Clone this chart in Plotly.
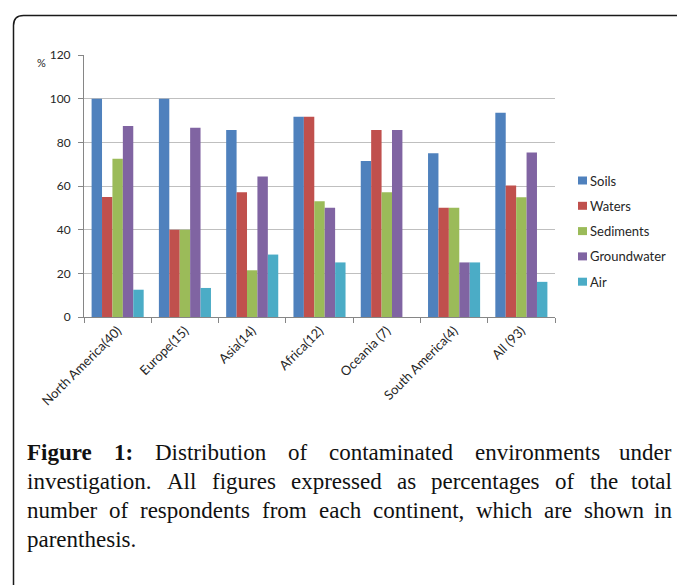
import plotly.graph_objects as go

# ---- data -------------------------------------------------------------
regions = ["North America(40)", "Europe(15)", "Asia(14)", "Africa(12)",
           "Oceania (7)", "South America(4)", "All (93)"]

soils = [100, 100, 85.7, 91.7, 71.4, 75, 93.5]
waters = [55, 40, 57.1, 91.7, 85.7, 50, 60.2]
sediments = [72.5, 40, 21.4, 53, 57.1, 50, 54.8]
groundwater = [87.5, 86.7, 64.3, 50, 85.7, 25, 75.3]
air = [12.5, 13.3, 28.6, 25, 0, 25, 16.1]

series_names = ["Soils", "Waters", "Sediments", "Groundwater", "Air"]
series_values = [soils, waters, sediments, groundwater, air]
series_colors = ["#4F81BD", "#C0504D", "#9BBB59", "#8064A2", "#4BACC6"]

y_ticks = [0, 20, 40, 60, 80, 100, 120]

caption_lines = [
    [("Figure", True), ("1:", True), ("Distribution", False), ("of", False),
     ("contaminated", False), ("environments", False), ("under", False)],
    [(w, False) for w in "investigation. All figures expressed as percentages of the total".split()],
    [(w, False) for w in "number of respondents from each continent, which are shown in".split()],
    [(w, False) for w in "parenthesis.".split()],
]

# ---- page geometry (pixels) ---------------------------------------------
W, H = 677, 585
L, R, T, B = 84, 122, 55, 268
PW, PH = W - L - R, H - T - B
AXIS_GRAY = "#868686"
TEXT = "#262626"


def pxx(x):
    return (x - L) / PW


def pxy(y):
    return (H - B - y) / PH


fig = go.Figure()
for name, vals, col in zip(series_names, series_values, series_colors):
    fig.add_trace(go.Bar(x=regions, y=vals, name=name, marker_color=col,
                         marker_line_width=0, showlegend=False))

# ---- legend: swatch + label per series -----------------------------------
shapes = []
annotations = []
for i, (name, col) in enumerate(zip(series_names, series_colors)):
    cy = 180.5 + i * 25.3
    shapes.append(dict(type="rect", xref="paper", yref="paper",
                       x0=pxx(578), x1=pxx(587), y0=pxy(cy + 4), y1=pxy(cy - 4),
                       fillcolor=col, line_width=0))
    annotations.append(dict(text=name, xref="paper", yref="paper",
                            x=pxx(588), y=pxy(cy), xanchor="left", yanchor="middle",
                            showarrow=False,
                            font=dict(family="Lato", size=13, color=TEXT)))

# unit label beside the top tick
annotations.append(dict(text="%", xref="paper", yref="paper", x=pxx(41), y=pxy(62),
                        xanchor="center", yanchor="middle", showarrow=False,
                        font=dict(family="Lato", size=11, color=TEXT)))

# ---- frame with rounded top-left corner ---------------------------------
rx, ry = 10 / PW, 10 / PH
fx, fy = pxx(13.5), pxy(15.5)
fr, fb = pxx(690), pxy(600)
shapes.append(dict(type="path", xref="paper", yref="paper",
                   path=f"M {fx},{fb} L {fx},{fy - ry} Q {fx},{fy} {fx + rx},{fy} L {fr},{fy}",
                   line=dict(color="#1a1a1a", width=1.5)))

# ---- justified caption (Times / Liberation Serif advance widths) ----------
REG = {'a': 444, 'b': 500, 'c': 444, 'd': 500, 'e': 444, 'f': 333, 'g': 500,
       'h': 500, 'i': 278, 'j': 278, 'k': 500, 'l': 278, 'm': 778, 'n': 500,
       'o': 500, 'p': 500, 'q': 500, 'r': 333, 's': 389, 't': 278, 'u': 500,
       'v': 500, 'w': 722, 'x': 500, 'y': 500, 'z': 444, 'A': 722, 'D': 722,
       'F': 556, '.': 250, ',': 250, ':': 278, '1': 500}
BOLD = {'F': 611, 'i': 278, 'g': 500, 'u': 556, 'r': 444, 'e': 444, '1': 500, ':': 333}
CAP_SIZE = 23
CAP_FONT = "Liberation Serif"


def word_width(word, bold):
    table = BOLD if bold else REG
    return sum(table.get(ch, REG.get(ch, 500)) for ch in word) * CAP_SIZE / 1000


cap_left, cap_right = 26, 673
line_y = [452, 481, 510, 539]
for li, (words, y) in enumerate(zip(caption_lines, line_y)):
    justify = li < len(caption_lines) - 1
    widths = [word_width(w, b) for w, b in words]
    if justify and len(words) > 1:
        gap = (cap_right - cap_left - sum(widths)) / (len(words) - 1)
    else:
        gap = 0.25 * CAP_SIZE
    x = cap_left
    for k, ((w, b), wd) in enumerate(zip(words, widths)):
        last = justify and k == len(words) - 1
        annotations.append(dict(
            text=f"<b>{w}</b>" if b else w, xref="paper", yref="paper",
            x=pxx(cap_right if last else x), y=pxy(y),
            xanchor="right" if last else "left", yanchor="middle",
            showarrow=False, borderpad=0,
            font=dict(family=CAP_FONT, size=CAP_SIZE, color="#111111")))
        x += wd + gap

fig.update_layout(
    width=W, height=H, autosize=False,
    margin=dict(l=L, r=R, t=T, b=B, autoexpand=False),
    paper_bgcolor="white", plot_bgcolor="white",
    barmode="group", bargap=0.226, bargroupgap=0,
    shapes=shapes, annotations=annotations,
    xaxis=dict(type="category", showline=True, linecolor=AXIS_GRAY, linewidth=1,
               ticks="outside", tickson="boundaries", ticklen=5, tickcolor=AXIS_GRAY,
               tickangle=-45, showgrid=False,
               tickfont=dict(family="Lato", size=13, color=TEXT)),
    yaxis=dict(range=[0, 120], tickvals=y_ticks, showline=True, linecolor=AXIS_GRAY,
               linewidth=1, ticks="outside", ticklen=5, tickcolor=AXIS_GRAY,
               showgrid=True, gridcolor="#BFBFBF", gridwidth=1, zeroline=False,
               ticklabelstandoff=5,
               tickfont=dict(family="Lato", size=12, color=TEXT)),
)

fig.write_html("out.html")
